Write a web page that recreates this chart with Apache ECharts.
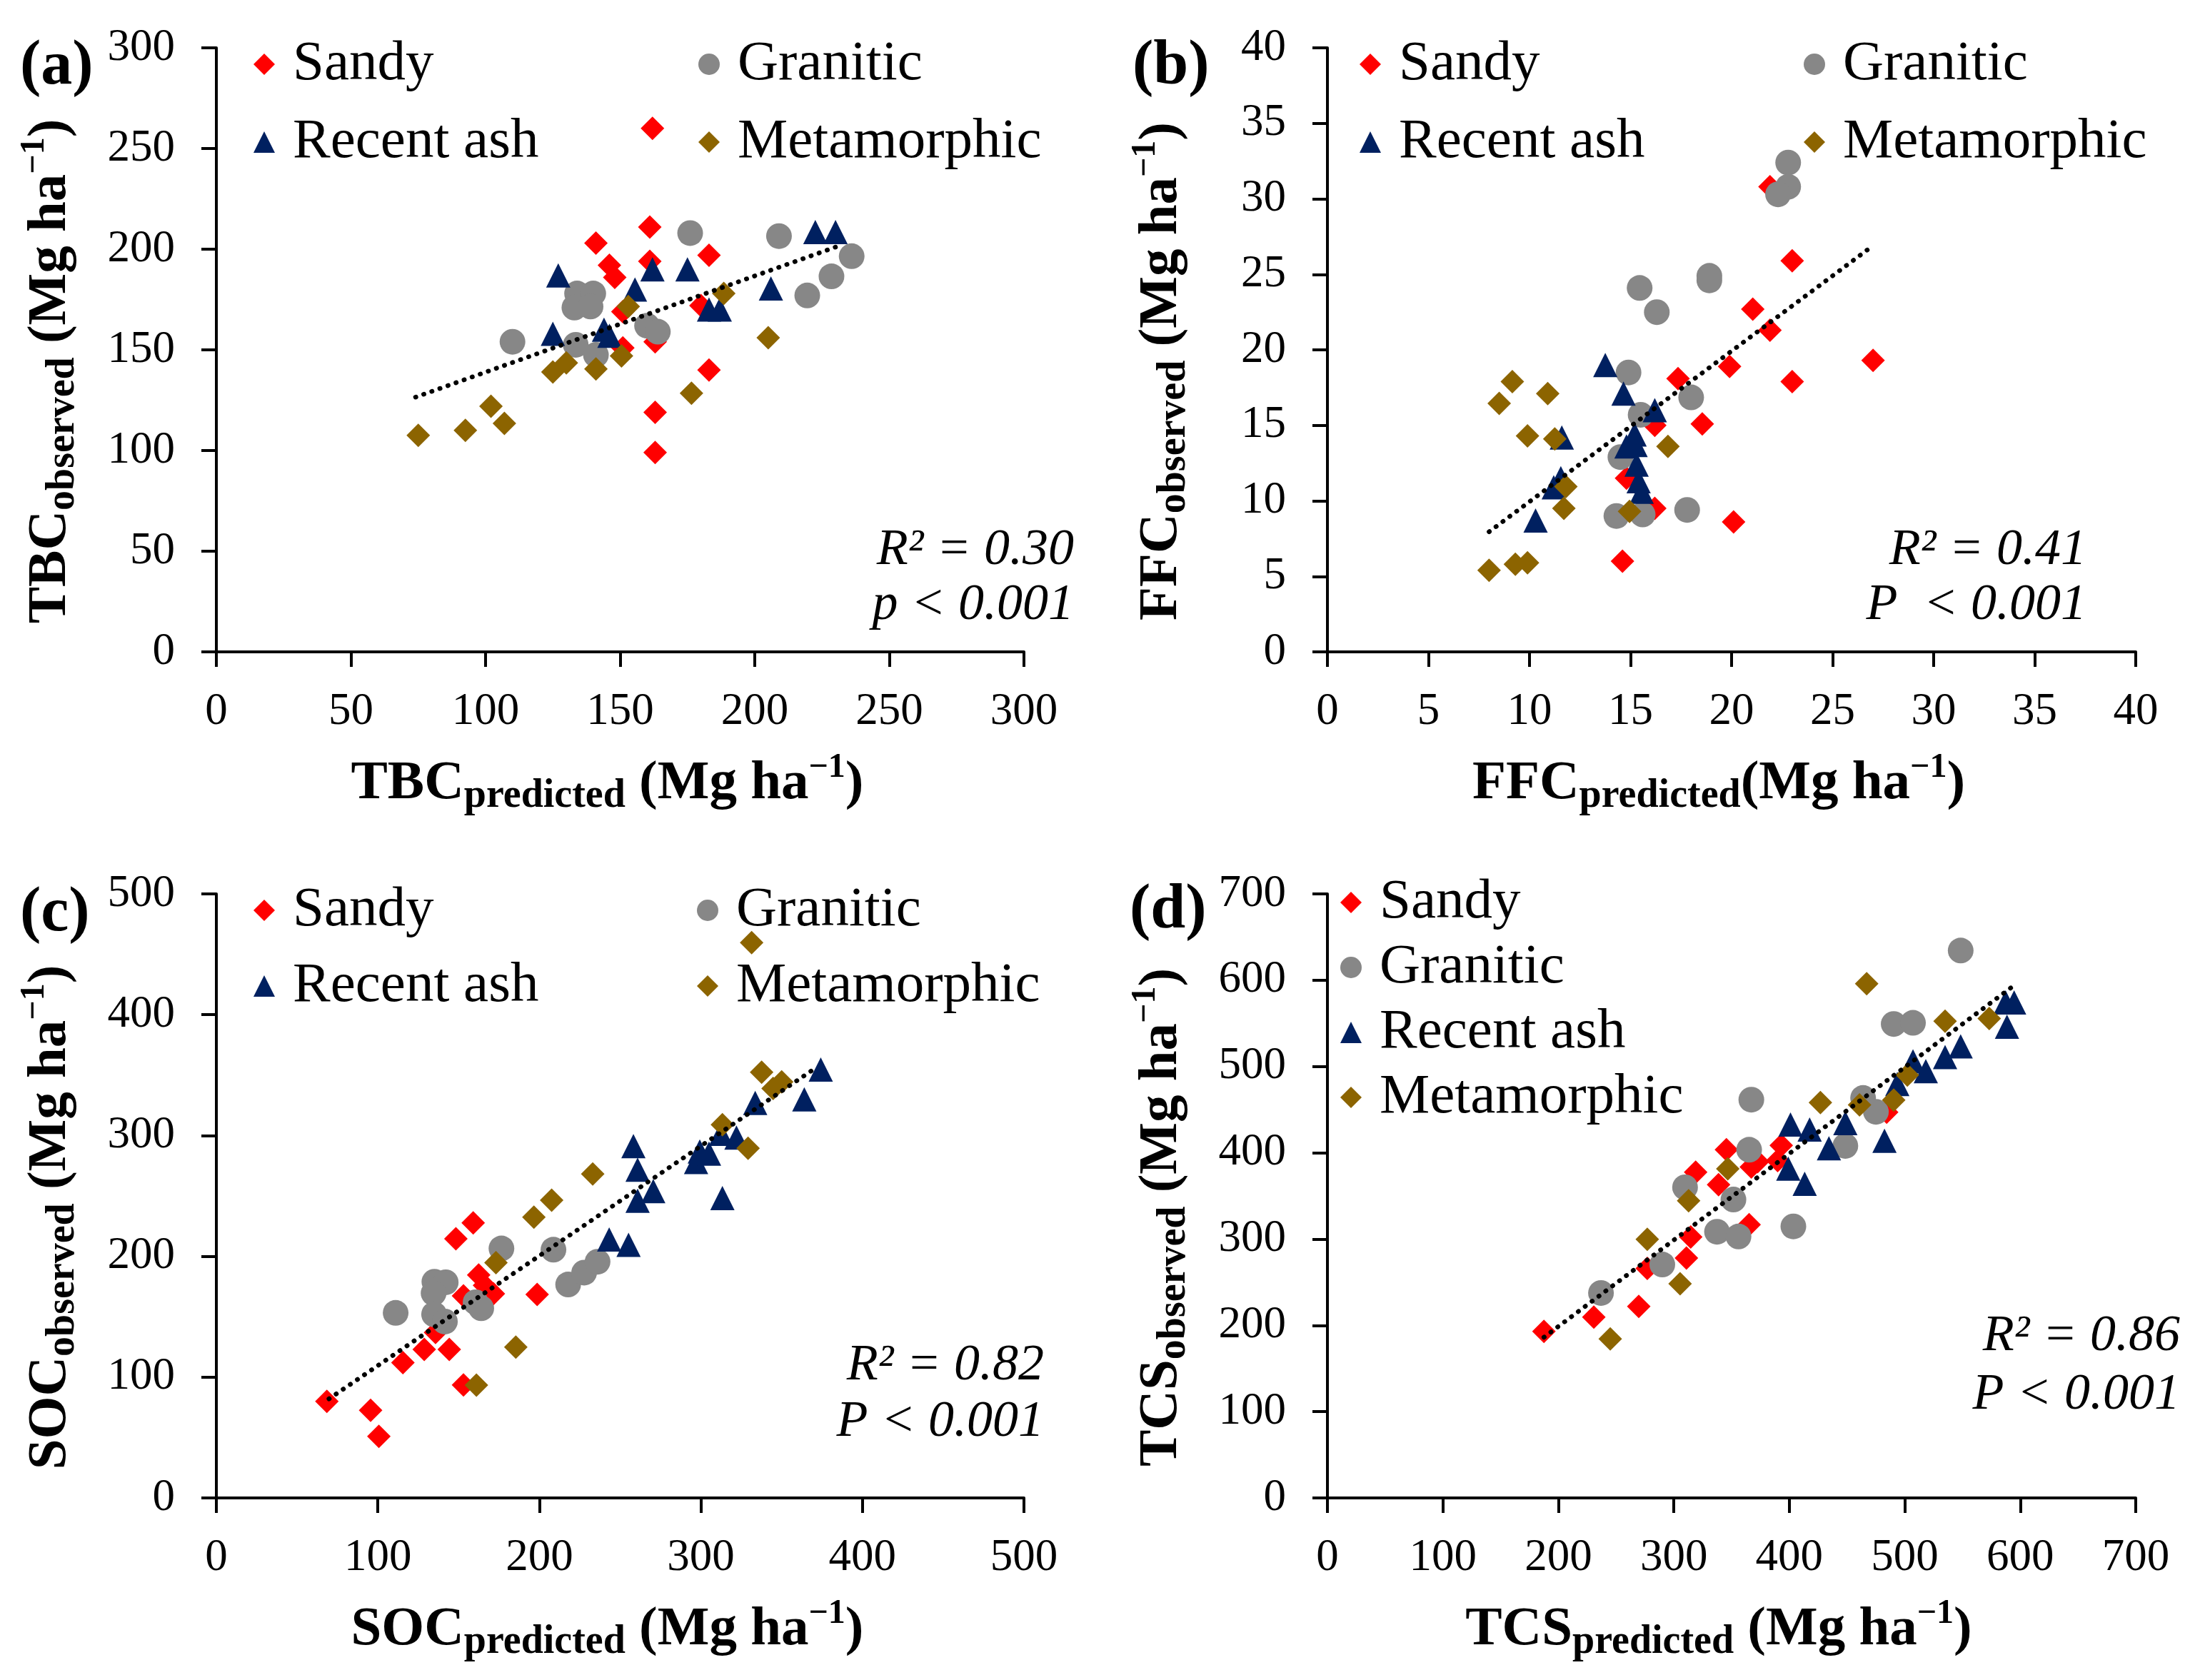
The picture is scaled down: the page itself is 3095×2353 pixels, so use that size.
<!DOCTYPE html>
<html>
<head>
<meta charset="utf-8">
<title>Predicted vs observed carbon stocks</title>
<script src="https://cdn.jsdelivr.net/npm/echarts@6/dist/echarts.min.js"></script>
<style>
  html, body { margin: 0; padding: 0; background: #fff; }
  #chart { width: 3095px; height: 2353px; }
</style>
</head>
<body>
<div id="chart"></div>
<script>
// ---- data ----
// (a) TBC
var tbcSandy = [[162,260],[161,211],[141,203],[161,194],[146,192],[148,186],[183,197],[151,169],[180,172],[151,151],[163,154],[183,140],[163,119],[163,99]];
var tbcGranitic = [[176,208],[209,206.5],[236,196.5],[228.5,186.5],[219.5,177],[110,154],[134,178],[140,178],[133,171],[139,171.5],[133.5,152.5],[141,147.5],[160,162],[164,159]];
var tbcAsh = [[127,187],[125,158],[144,160],[146,157],[155.5,180],[162,190],[175,190],[183,170],[187,170],[206,180.5],[222.5,208.5],[230,208.5]];
var tbcMeta = [[75,107.5],[92.5,110],[102,122],[107,113.5],[125,139],[130,143.5],[141,140.5],[150.5,147],[153,171.5],[176.5,128.5],[188.5,178],[205,156]];
var tbcTrend = [[74,126.5],[232,202]];

// (b) FFC
var ffcSandy = [[21.9,30.8],[23,25.9],[21.05,22.7],[21.9,21.3],[19.9,18.9],[27,19.3],[23,17.9],[17.35,18.1],[18.55,15.1],[16.2,15],[14.8,11.5],[16.2,9.5],[20.1,8.6],[14.6,6.0]];
var ffcGranitic = [[22.8,32.4],[22.8,30.8],[22.3,30.3],[18.9,24.9],[18.9,24.6],[15.45,24.1],[16.3,22.5],[14.9,18.5],[18.0,16.85],[15.5,15.7],[14.5,12.9],[14.3,9.0],[15.6,9.1],[17.8,9.4]];
var ffcAsh = [[13.75,19.0],[14.65,17.1],[16.2,16.0],[11.6,14.2],[15.2,14.4],[15.25,13.7],[14.8,13.6],[15.3,12.4],[11.55,11.5],[11.2,10.9],[15.4,11.3],[15.55,10.6],[10.3,8.7]];
var ffcMeta = [[9.15,17.9],[8.5,16.45],[10.9,17.1],[9.9,14.3],[11.25,14.1],[16.85,13.6],[11.8,10.95],[11.7,9.5],[14.95,9.3],[8.0,5.4],[9.3,5.8],[9.9,5.9]];
var ffcTrend = [[8.0,7.95],[26.9,26.8]];

// (c) SOC
var socSandy = [[68.4,80],[95.5,72.5],[100.6,51],[115.5,112],[128.7,123],[144.2,123],[135.7,137],[153,93.5],[148.3,214.5],[159,227.7],[162.4,184.5],[153,167.3],[166,176],[171.5,169],[198.6,168.4]];
var socGranitic = [[111,153.2],[135,179],[142,178.5],[134.5,169.5],[134.8,152],[141.5,146],[160.5,162],[164,157],[176.5,206.5],[208.7,205.5],[217.8,176.7],[227.7,186.5],[236,195.5]];
var socAsh = [[243.2,214],[255.2,209.5],[258.2,291.2],[260.8,271.7],[260.8,246],[270.5,254],[297,278],[299.3,286.8],[305,285],[312.4,301.4],[322,298.3],[313.3,248.2],[333.6,327],[364,330],[374.2,354.6]];
var socMeta = [[331.4,459.7],[337.6,352.4],[344.7,339],[350,344.4],[313.3,309],[329.2,289.4],[233,268.2],[207.6,246.5],[196.6,232.4],[173.1,194.7],[185.4,124.8],[161,93.4]];
var socTrend = [[69.7,82],[372,356.8]];

// (d) TCS
var tcsSandy = [[187.5,193],[230.7,209.5],[269.6,222],[277,266],[310.9,278],[314.6,302.5],[318.9,377.5],[338.7,363],[345.5,403.5],[367.1,383.5],[372.6,389.8],[365.2,316.6],[393,408.5],[389.9,391],[484.3,447]];
var tcsGranitic = [[236.9,237.5],[290,270.5],[309.7,360],[337.4,308.5],[356,303],[351.6,345.8],[365.2,403.5],[367.1,461.5],[403.5,314.7],[448.5,408],[463.9,463.5],[475,447.5],[490.4,549.3],[507.1,550.6],[548.4,634.4]];
var tcsAsh = [[401,432.7],[399.1,381.7],[413.3,364],[417.6,427],[434.3,405.3],[448.5,434.5],[482.4,414],[493.5,479.8],[507.1,505.9],[518.2,494.5],[534.9,511],[548.4,523.3],[588.5,546.2],[587.3,574.2],[594.7,574.2]];
var tcsMeta = [[244.9,184.4],[277,299.8],[305.4,248.3],[312.8,344.5],[346.7,381.5],[426.9,458.1],[460.8,455.5],[490.4,461],[502.2,490],[467,595.9],[534.9,552.5],[573.1,555.6]];
var tcsTrend = [[187.5,186.2],[593.5,592.8]];

// axis ranges and labels
var axisMax = [300, 40, 500, 700];
var axisStep = [50, 5, 100, 100];
var varNames = ['TBC', 'FFC', 'SOC', 'TCS'];
var panelTags = ['(a)', '(b)', '(c)', '(d)'];
var statR2 = ['R² = 0.30', 'R² = 0.41', 'R² = 0.82', 'R² = 0.86'];
var statP = ['p < 0.001', 'P  < 0.001', 'P < 0.001', 'P < 0.001'];
var groupNames = ['Sandy', 'Granitic', 'Recent ash', 'Metamorphic'];

var panelData = [
  [tbcSandy, tbcGranitic, tbcAsh, tbcMeta, tbcTrend],
  [ffcSandy, ffcGranitic, ffcAsh, ffcMeta, ffcTrend],
  [socSandy, socGranitic, socAsh, socMeta, socTrend],
  [tcsSandy, tcsGranitic, tcsAsh, tcsMeta, tcsTrend]
];

var FONT = 'Liberation Serif';
var groupSymbol = ['diamond', 'circle', 'triangle', 'diamond'];
var groupSize = [33, 36, 34, 33];
var groupColor = ['#ff0000', '#878787', '#002060', '#8c6400'];

var grids = [
  { left: 303, top: 67, width: 1131, height: 846 },
  { left: 1859, top: 67, width: 1132, height: 846 },
  { left: 303, top: 1252, width: 1131, height: 846 },
  { left: 1859, top: 1252, width: 1132, height: 846 }
];

var titleRich = {
  b: { fontFamily: FONT, fontSize: 77, fontWeight: 'bold', color: '#000', lineHeight: 92 },
  s: { fontFamily: FONT, fontSize: 56, fontWeight: 'bold', color: '#000', lineHeight: 56, verticalAlign: 'bottom' },
  p: { fontFamily: FONT, fontSize: 48, fontWeight: 'bold', color: '#000', lineHeight: 48, verticalAlign: 'top' }
};

function axisTitle(v, sub, gap) {
  return '{b|' + v + '}{s|' + sub + '}{b|' + gap + '(Mg ha}{p|−1}{b|)}';
}

function makeAxis(i, isX) {
  var ax = {
    type: 'value',
    gridIndex: i,
    min: 0,
    max: axisMax[i],
    interval: axisStep[i],
    splitLine: { show: false },
    axisLine: { show: true, onZero: false, lineStyle: { color: '#000', width: 4 } },
    axisTick: { show: true, inside: false, length: 21, lineStyle: { color: '#000', width: 4 } },
    axisLabel: { fontFamily: FONT, fontSize: 63, color: '#000', margin: isX ? 53 : 58 },
    nameLocation: 'middle',
    nameTextStyle: { rich: titleRich }
  };
  if (isX) {
    ax.name = axisTitle(varNames[i], 'predicted', i == 1 ? '' : ' ');
    ax.nameGap = 139;
    ax.nameTextStyle.padding = [0, 36, 0, 0];
  } else {
    ax.name = axisTitle(varNames[i], 'observed', ' ');
    ax.nameGap = 186;
    ax.nameRotate = 90;
    ax.nameTextStyle.padding = [0, 60, 0, 0];
  }
  return ax;
}

var xAxes = [], yAxes = [], series = [];
for (var i = 0; i < 4; i++) {
  xAxes.push(makeAxis(i, true));
  yAxes.push(makeAxis(i, false));
  for (var g = 0; g < 4; g++) {
    series.push({
      name: groupNames[g],
      type: 'scatter',
      xAxisIndex: i,
      yAxisIndex: i,
      symbol: groupSymbol[g],
      symbolSize: groupSize[g],
      itemStyle: { color: groupColor[g], opacity: 1 },
      data: panelData[i][g]
    });
  }
  // dotted trend line
  series.push({
    name: 'trend' + i,
    type: 'line',
    xAxisIndex: i,
    yAxisIndex: i,
    symbol: 'none',
    silent: true,
    lineStyle: { color: '#000', width: 6.5, type: [0.5, 11.5], cap: 'round' },
    data: panelData[i][4],
    z: 5
  });
}

// legends: two columns for (a)-(c), one column for (d)
function legendCol(left, top, names, gap) {
  return {
    left: left,
    top: top,
    orient: 'vertical',
    padding: 0,
    itemGap: gap,
    itemWidth: 30,
    itemHeight: 30,
    selectedMode: false,
    data: names,
    textStyle: { fontFamily: FONT, fontSize: 79, color: '#000', lineHeight: 80, padding: [0, 0, 0, 20] }
  };
}

var legends = [
  legendCol(355, 50, ['Sandy', 'Recent ash'], 29),
  legendCol(978, 50, ['Granitic', 'Metamorphic'], 29),
  legendCol(1904, 50, ['Sandy', 'Recent ash'], 29),
  legendCol(2526, 50, ['Granitic', 'Metamorphic'], 29),
  legendCol(355, 1235, ['Sandy', 'Recent ash'], 26),
  legendCol(976, 1235, ['Granitic', 'Metamorphic'], 26),
  legendCol(1877, 1224, ['Sandy', 'Granitic', 'Recent ash', 'Metamorphic'], 11)
];

// panel letters and statistics
var tagPos = [[28, 94], [1586, 94], [28, 1280], [1582, 1276]];
var statPos = [[1504, 771, 848], [2922, 771, 848], [1462, 1913, 1992], [3053, 1872, 1954]];
var graphics = [];
for (var k = 0; k < 4; k++) {
  graphics.push({
    type: 'text',
    style: { text: panelTags[k], x: tagPos[k][0], y: tagPos[k][1], font: 'bold 88px "' + FONT + '"', fill: '#000', align: 'left', verticalAlign: 'middle' }
  });
  graphics.push({
    type: 'text',
    style: { text: statR2[k], x: statPos[k][0], y: statPos[k][1], font: 'italic 72px "' + FONT + '"', fill: '#000', align: 'right', verticalAlign: 'middle' }
  });
  graphics.push({
    type: 'text',
    style: { text: statP[k], x: statPos[k][0], y: statPos[k][2], font: 'italic 72px "' + FONT + '"', fill: '#000', align: 'right', verticalAlign: 'middle' }
  });
}

var chart = echarts.init(document.getElementById('chart'));
chart.setOption({
  backgroundColor: '#fff',
  animation: false,
  grid: grids,
  xAxis: xAxes,
  yAxis: yAxes,
  legend: legends,
  graphic: graphics,
  series: series
});
</script>
</body>
</html>
